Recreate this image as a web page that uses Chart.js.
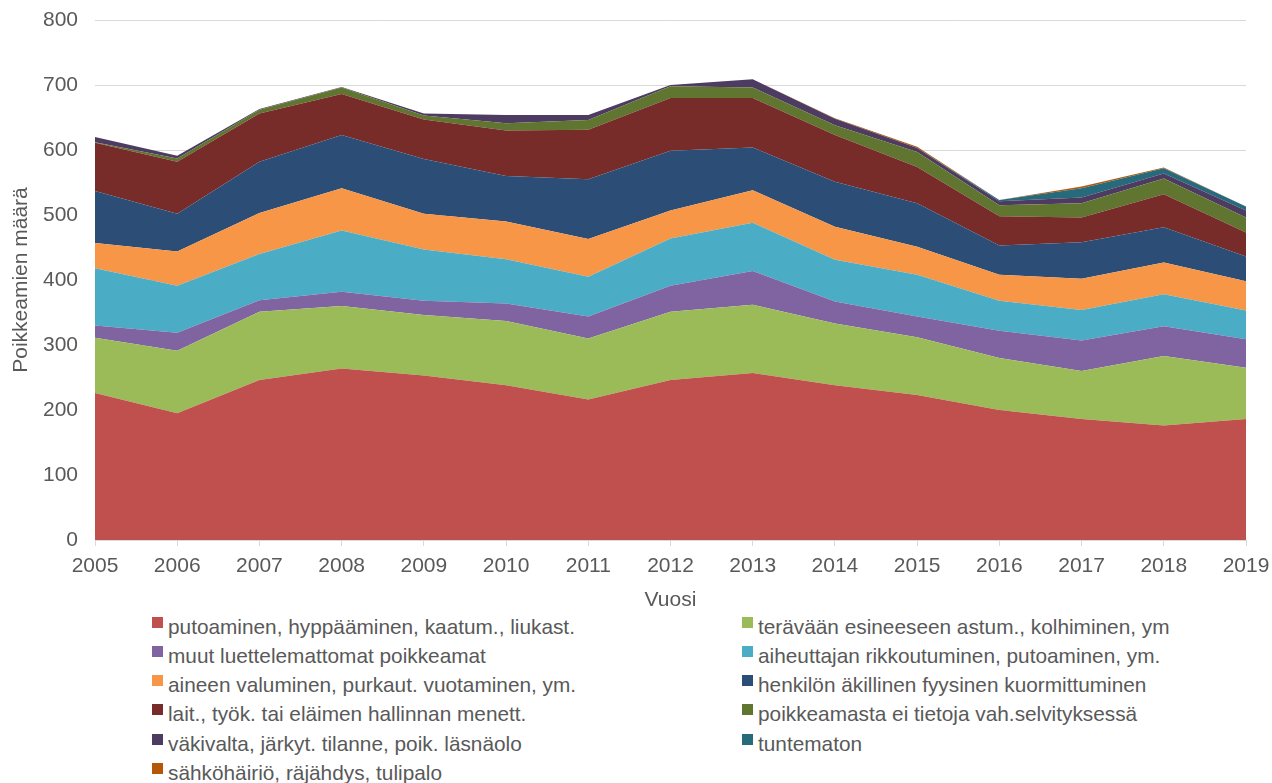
<!DOCTYPE html>
<html>
<head>
<meta charset="utf-8">
<script src="https://cdn.jsdelivr.net/npm/chart.js@4.4.1/dist/chart.umd.min.js"></script>
<style>
  body { margin: 0; background: #fff; font-family: 'Liberation Sans', Arial, sans-serif; }
  #wrap { position: relative; width: 1272px; height: 783px; overflow: hidden; }
  #areaChart { position: absolute; left: 0; top: 0; }
  .item { position: absolute; font-size: 20.8px; color: #595959; white-space: nowrap; line-height: 24px; }
  .box { display: inline-block; width: 11px; height: 11px; margin-right: 5px; vertical-align: 6px; }
</style>
</head>
<body>
<div id="wrap">
  <canvas id="areaChart" width="1272" height="615"></canvas>
  <div id="legend"></div>
</div>
<script>
const years = ['2005', '2006', '2007', '2008', '2009', '2010', '2011', '2012', '2013', '2014', '2015', '2016', '2017', '2018', '2019'];

const putoaminen = [226, 195, 246, 264, 253, 238, 216, 246, 257, 238, 223, 200, 186, 176, 186];
const teravaan    = [85, 96, 105, 96, 93, 99, 94, 105, 105, 95, 89, 80, 74, 107, 79];
const muut        = [19, 28, 18, 22, 22, 27, 34, 40, 52, 34, 32, 42, 47, 46, 44];
const aiheuttajan = [88, 72, 71, 94, 79, 68, 61, 73, 74, 64, 64, 46, 47, 49, 44];
const aineen      = [39, 53, 63, 65, 55, 58, 58, 43, 50, 51, 43, 40, 48, 49, 45];
const henkilon    = [80, 58, 79, 82, 84, 70, 92, 92, 66, 69, 67, 45, 56, 54, 38];
const laitteet    = [74, 80, 74, 63, 61, 70, 76, 81, 76, 72, 56, 45, 38, 51, 37];
const eiTietoja   = [1, 5, 6, 10, 6, 11, 15, 18, 16, 15, 23, 17, 22, 24, 23];
const vakivalta   = [8, 4, 1, 1, 3, 13, 8, 2, 13, 10, 6, 6, 9, 8, 11];
const tuntematon  = [0, 0, 0, 0, 0, 0, 0, 0, 0, 0, 0, 2, 14, 8, 6];
const sahko       = [0, 0, 0, 0, 0, 0, 0, 0, 0, 1, 2, 0, 3, 1, 0];

const seriesNames = [
  'putoaminen, hyppääminen, kaatum., liukast.',
  'terävään esineeseen astum., kolhiminen, ym',
  'muut luettelemattomat poikkeamat',
  'aiheuttajan rikkoutuminen, putoaminen, ym.',
  'aineen valuminen, purkaut. vuotaminen, ym.',
  'henkilön äkillinen fyysinen kuormittuminen',
  'lait., työk. tai eläimen hallinnan menett.',
  'poikkeamasta ei tietoja vah.selvityksessä',
  'väkivalta, järkyt. tilanne, poik. läsnäolo',
  'tuntematon',
  'sähköhäiriö, räjähdys, tulipalo'
];
const seriesValues = [putoaminen, teravaan, muut, aiheuttajan, aineen, henkilon, laitteet, eiTietoja, vakivalta, tuntematon, sahko];
const colors = ['#C0504D', '#9BBB59', '#8064A2', '#4BACC6', '#F79646', '#2C4D75', '#772C2A', '#5F7530', '#4D3B62', '#276A7C', '#B65708'];

const areaChart = document.getElementById('areaChart');

new Chart(areaChart, {
  type: 'line',
  data: {
    labels: years,
    datasets: seriesValues.map((vals, i) => ({
      label: seriesNames[i],
      data: vals,
      backgroundColor: colors[i],
      borderColor: colors[i],
      borderWidth: 0,
      pointRadius: 0,
      fill: i === 0 ? 'origin' : '-1'
    }))
  },
  options: {
    responsive: false,
    animation: false,
    layout: { padding: { left: 0, right: 26, top: 0, bottom: 0 } },
    plugins: {
      legend: { display: false },
      tooltip: { enabled: false }
    },
    scales: {
      x: {
        offset: false,
        afterFit: (scale) => { scale.height = 75; scale.paddingRight = 0; scale.paddingLeft = 0; },
        grid: { drawOnChartArea: false, color: '#d9d9d9', tickLength: 6 },
        border: { color: '#d9d9d9' },
        ticks: { color: '#595959', font: { size: 21 }, padding: 8, maxRotation: 0 },
        title: { display: true, text: 'Vuosi', color: '#595959', font: { size: 21 }, padding: { top: 4, bottom: 2 } }
      },
      y: {
        stacked: true,
        min: 0,
        max: 800,
        afterFit: (scale) => { scale.width = 95; scale.paddingTop = 20; scale.paddingBottom = 0; },
        ticks: { stepSize: 100, color: '#595959', font: { size: 21 }, padding: 17 },
        grid: { color: '#d9d9d9', drawTicks: false },
        border: { display: false },
        title: { display: true, text: 'Poikkeamien määrä', color: '#595959', font: { size: 21 }, padding: { top: 9, bottom: 0 } }
      }
    }
  }
});

// legend in two columns below the chart
const legend = document.getElementById('legend');
seriesNames.forEach((name, i) => {
  const el = document.createElement('div');
  el.className = 'item';
  el.style.left = (i % 2 === 0 ? 152 : 742) + 'px';
  el.style.top = (614.5 + Math.floor(i / 2) * 29.3) + 'px';
  el.innerHTML = '<span class="box" style="background:' + colors[i] + '"></span>' + name;
  legend.appendChild(el);
});
</script>
</body>
</html>
